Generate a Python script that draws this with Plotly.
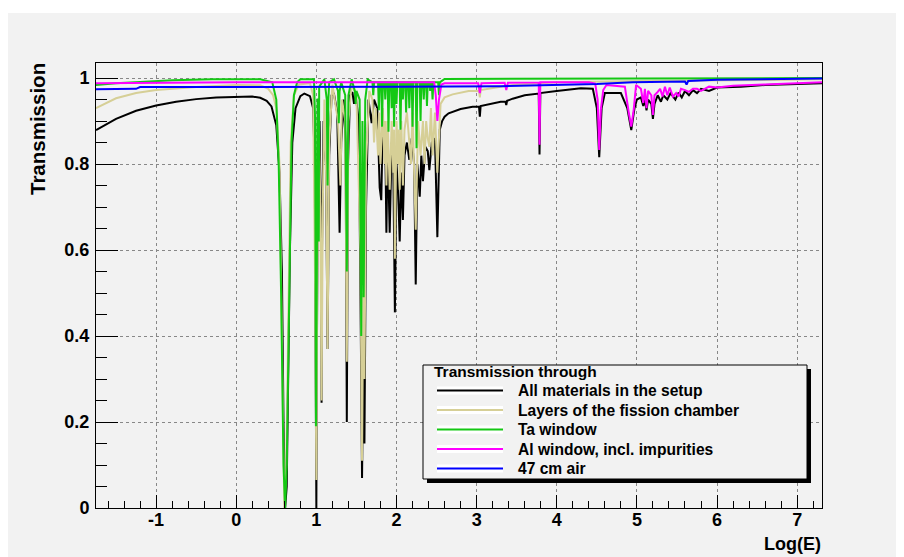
import plotly.graph_objects as go

# ---------------- data ----------------
series_names = ["All materials in the setup", "Layers of the fission chamber",
                "Ta window", "Al window, incl. impurities", "47 cm air"]
legend_header = "Transmission through"
x_ticks = [-1, 0, 1, 2, 3, 4, 5, 6, 7]
x_tick_labels = ["-1", "0", "1", "2", "3", "4", "5", "6", "7"]
y_ticks = [0, 0.2, 0.4, 0.6, 0.8, 1.0]
y_tick_labels = ["0", "0.2", "0.4", "0.6", "0.8", "1"]

black_x = [-1.75, -1.5, -1.25, -1.0, -0.75, -0.5, -0.25, 0.0, 0.2, 0.3,
           0.38, 0.44, 0.5, 0.54, 0.57, 0.59, 0.61, 0.63, 0.65, 0.67,
           0.70, 0.74, 0.8, 0.85, 0.92, 0.96, 0.98, 0.995, 1.0, 1.005,
           1.02, 1.04, 1.06, 1.065, 1.07, 1.09, 1.12, 1.14, 1.16, 1.19,
           1.22, 1.26, 1.29, 1.31, 1.34, 1.365, 1.38, 1.395, 1.42, 1.45,
           1.47, 1.49, 1.53, 1.56, 1.57, 1.585, 1.6, 1.62, 1.65, 1.69,
           1.72, 1.76, 1.79, 1.81, 1.83, 1.86, 1.874, 1.89, 1.915, 1.94,
           1.96, 1.98, 2.0, 2.02, 2.04, 2.06, 2.08, 2.1, 2.13, 2.16,
           2.19, 2.22, 2.24, 2.26, 2.29, 2.31, 2.33, 2.36, 2.39, 2.41,
           2.44, 2.48, 2.51, 2.54, 2.57, 2.6, 2.65, 2.8, 2.95, 3.03,
           3.04, 3.05, 3.3, 3.36, 3.37, 3.38, 3.45, 3.6, 3.775, 3.785,
           3.795, 4.0, 4.3, 4.45, 4.5, 4.53, 4.56, 4.6, 4.8, 4.88,
           4.93, 4.97, 5.0, 5.05, 5.08, 5.1, 5.12, 5.14, 5.18, 5.2,
           5.22, 5.26, 5.3, 5.33, 5.38, 5.42, 5.48, 5.52, 5.56, 5.6,
           5.65, 5.7, 5.75, 5.8, 5.9, 6.0, 6.3, 6.6, 7.0, 7.31]
black_y = [0.879, 0.905, 0.924, 0.936, 0.945, 0.951, 0.955, 0.957, 0.957, 0.954,
           0.947, 0.934, 0.89, 0.78, 0.55, 0.2, 0.0, 0.05, 0.3, 0.6,
           0.85, 0.93, 0.958, 0.964, 0.958, 0.93, 0.8, 0.3, 0.0, 0.3,
           0.85, 0.9, 0.6, 0.245, 0.6, 0.9, 0.8, 0.37, 0.82, 0.96,
           0.963, 0.92, 0.64, 0.85, 0.95, 0.85, 0.2, 0.8, 0.96, 0.967,
           0.94, 0.96, 0.9, 0.3, 0.07, 0.35, 0.15, 0.7, 0.95, 0.895,
           0.95, 0.93, 0.745, 0.716, 0.9, 0.85, 0.64, 0.85, 0.64, 0.85,
           0.8, 0.455, 0.8, 0.74, 0.62, 0.78, 0.67, 0.82, 0.85, 0.81,
           0.86, 0.8, 0.52, 0.8, 0.724, 0.82, 0.76, 0.84, 0.83, 0.786,
           0.85, 0.86, 0.63, 0.88, 0.9, 0.91, 0.918, 0.928, 0.933, 0.933,
           0.91, 0.935, 0.945, 0.945, 0.937, 0.947, 0.952, 0.96, 0.964, 0.822,
           0.965, 0.97, 0.976, 0.975, 0.93, 0.816, 0.93, 0.965, 0.965, 0.93,
           0.879, 0.93, 0.95, 0.955, 0.935, 0.95, 0.925, 0.95, 0.94, 0.905,
           0.94, 0.96, 0.945, 0.96, 0.95, 0.965, 0.95, 0.966, 0.955, 0.97,
           0.96, 0.972, 0.965, 0.975, 0.97, 0.978, 0.98, 0.984, 0.987, 0.988]

tan_x = [-1.75, -1.5, -1.25, -1.0, -0.5, 0.0, 0.3, 0.4, 0.46, 0.5,
         0.54, 0.57, 0.6, 0.625, 0.65, 0.68, 0.72, 0.78, 0.92, 0.96,
         0.985, 1.0, 1.01, 1.03, 1.05, 1.065, 1.08, 1.1, 1.12, 1.14,
         1.16, 1.2, 1.27, 1.3, 1.32, 1.36, 1.38, 1.4, 1.44, 1.5,
         1.55, 1.57, 1.585, 1.6, 1.62, 1.66, 1.7, 1.72, 1.74, 1.77,
         1.785, 1.8, 1.83, 1.85, 1.86, 1.874, 1.89, 1.915, 1.94, 1.96,
         1.97, 1.98, 2.0, 2.02, 2.03, 2.04, 2.06, 2.08, 2.1, 2.13,
         2.16, 2.18, 2.2, 2.24, 2.27, 2.3, 2.33, 2.35, 2.37, 2.39,
         2.41, 2.43, 2.45, 2.48, 2.51, 2.55, 2.6, 2.7, 2.9, 3.03,
         3.04, 3.05, 3.3, 3.5, 4.0, 5.0, 7.31]
tan_y = [0.93, 0.953, 0.965, 0.972, 0.979, 0.984, 0.983, 0.975, 0.96, 0.93,
         0.8, 0.4, 0.0, 0.1, 0.5, 0.85, 0.96, 0.985, 0.988, 0.96,
         0.5, 0.065, 0.5, 0.9, 0.7, 0.25, 0.7, 0.95, 0.8, 0.37,
         0.85, 0.985, 0.9, 0.75, 0.95, 0.9, 0.34, 0.9, 0.985, 0.96,
         0.6, 0.11, 0.5, 0.3, 0.8, 0.97, 0.95, 0.85, 0.93, 0.82,
         0.92, 0.8, 0.93, 0.8, 0.9, 0.75, 0.9, 0.74, 0.9, 0.78,
         0.88, 0.58, 0.9, 0.8, 0.88, 0.74, 0.9, 0.75, 0.88, 0.92,
         0.85, 0.8, 0.92, 0.647, 0.9, 0.82, 0.9, 0.8, 0.9, 0.86,
         0.84, 0.93, 0.82, 0.92, 0.78, 0.94, 0.955, 0.962, 0.97, 0.97,
         0.955, 0.972, 0.98, 0.985, 0.99, 0.993, 0.997]

green_x = [-1.75, -1.5, -1.2, -0.8, -0.3, 0.3, 0.45, 0.5, 0.53, 0.56,
           0.59, 0.61, 0.63, 0.66, 0.69, 0.72, 0.76, 0.8, 0.97, 0.985,
           0.995, 1.005, 1.015, 1.025, 1.03, 1.035, 1.1, 1.13, 1.14, 1.15,
           1.16, 1.22, 1.27, 1.28, 1.29, 1.31, 1.36, 1.38, 1.4, 1.44,
           1.48, 1.49, 1.5, 1.54, 1.56, 1.575, 1.59, 1.61, 1.64, 1.7,
           1.71, 1.72, 1.73, 1.77, 1.78, 1.79, 1.81, 1.82, 1.83, 1.85,
           1.86, 1.87, 1.89, 1.9, 1.91, 1.93, 1.94, 1.95, 1.96, 1.97,
           1.98, 1.99, 2.0, 2.01, 2.04, 2.05, 2.06, 2.07, 2.08, 2.09,
           2.11, 2.12, 2.13, 2.15, 2.16, 2.17, 2.19, 2.2, 2.21, 2.24,
           2.25, 2.26, 2.29, 2.3, 2.31, 2.33, 2.34, 2.35, 2.37, 2.38,
           2.39, 2.41, 2.42, 2.43, 2.44, 2.45, 2.46, 2.52, 2.53, 2.54,
           2.6, 4.0, 7.31]
green_y = [0.984, 0.988, 0.991, 0.995, 0.997, 0.997, 0.99, 0.95, 0.8, 0.5,
           0.1, 0.0, 0.1, 0.5, 0.85, 0.96, 0.99, 0.997, 0.997, 0.9,
           0.19, 0.5, 0.95, 0.95, 0.62, 0.98, 0.997, 0.95, 0.75, 0.95,
           0.99, 0.997, 0.97, 0.895, 0.97, 0.99, 0.96, 0.55, 0.96, 0.997,
           0.97, 0.94, 0.97, 0.95, 0.4, 0.9, 0.49, 0.95, 0.997, 0.99,
           0.96, 0.99, 0.99, 0.99, 0.925, 0.99, 0.99, 0.887, 0.99, 0.99,
           0.95, 0.99, 0.99, 0.875, 0.99, 0.99, 0.93, 0.99, 0.99, 0.887,
           0.99, 0.99, 0.94, 0.99, 0.99, 0.88, 0.99, 0.99, 0.95, 0.99,
           0.99, 0.92, 0.99, 0.99, 0.93, 0.99, 0.99, 0.887, 0.99, 0.99,
           0.837, 0.99, 0.99, 0.9, 0.99, 0.99, 0.95, 0.99, 0.99, 0.935,
           0.99, 0.99, 0.97, 0.99, 0.99, 0.95, 0.99, 0.99, 0.96, 0.99,
           0.998, 0.999, 1.0]

magenta_x = [-1.75, -1.2, 0.0, 2.0, 2.47, 2.49, 2.51, 2.53, 2.56, 2.6,
             3.02, 3.04, 3.06, 3.35, 3.37, 3.39, 3.775, 3.785, 3.795, 4.4,
             4.48, 4.51, 4.53, 4.55, 4.58, 4.62, 4.85, 4.9, 4.93, 4.96,
             4.99, 5.05, 5.08, 5.1, 5.12, 5.14, 5.18, 5.2, 5.22, 5.26,
             5.29, 5.32, 5.35, 5.38, 5.41, 5.45, 5.49, 5.52, 5.55, 5.6,
             5.65, 5.7, 5.75, 5.8, 5.9, 6.0, 6.2, 6.6, 7.0, 7.31]
magenta_y = [0.988, 0.989, 0.99, 0.99, 0.99, 0.96, 0.90, 0.95, 0.985, 0.988,
             0.988, 0.965, 0.988, 0.989, 0.972, 0.989, 0.99, 0.845, 0.99, 0.99,
             0.987, 0.95, 0.833, 0.926, 0.972, 0.984, 0.98, 0.918, 0.887, 0.926,
             0.984, 0.975, 0.942, 0.975, 0.93, 0.97, 0.96, 0.914, 0.96, 0.968,
             0.975, 0.957, 0.98, 0.96, 0.978, 0.957, 0.965, 0.957, 0.975, 0.972,
             0.968, 0.975, 0.975, 0.97, 0.98, 0.978, 0.982, 0.985, 0.988, 0.99]

blue_x = [-1.75, -1.25, -1.2, 0.5, 2.0, 3.3, 4.0, 4.5, 4.95, 5.6,
          5.62, 5.64, 6.0, 6.5, 7.31]
blue_y = [0.974, 0.975, 0.979, 0.979, 0.98, 0.981, 0.983, 0.986, 0.99, 0.992,
          0.985, 0.993, 0.996, 0.997, 0.999]

series_x = [black_x, tan_x, green_x, magenta_x, blue_x]
series_y = [black_y, tan_y, green_y, magenta_y, blue_y]
series_colors = ["#000000", "#d6cf96", "#14c814", "#ff00ff", "#0000ff"]

# ---------------- layout geometry (screen pixels; page body has an 8 px margin) ----------------
OFF = 8
W, H = 904 - OFF, 557 - OFF
P_LEFT, P_RIGHT, P_TOP, P_BOTTOM = 96, 822, 63, 508   # plot frame on screen
ML, MR, MT, MB = P_LEFT - OFF, 904 - P_RIGHT, P_TOP - OFF, 557 - P_BOTTOM
PW, PH = P_RIGHT - P_LEFT, P_BOTTOM - P_TOP


def px_x(p):
    return (p - P_LEFT) / PW


def px_y(p):
    return (P_BOTTOM - p) / PH


FONT = "Liberation Sans, Arial, Helvetica, sans-serif"

fig = go.Figure()
for xs, ys, c, n in zip(series_x, series_y, series_colors, series_names):
    fig.add_trace(go.Scatter(x=xs, y=ys, mode="lines", name=n,
                             line=dict(color=c, width=2), showlegend=False))

shapes = []
# grey canvas
shapes.append(dict(type="rect", xref="paper", yref="paper", layer="below",
                   x0=px_x(7), x1=px_x(910), y0=px_y(562), y1=px_y(13),
                   fillcolor="#f2f2f2", line=dict(width=0)))
# legend shadow and box
lx0, lx1, ly0, ly1 = 423, 807, 365, 479
shapes.append(dict(type="rect", xref="paper", yref="paper", layer="above",
                   x0=px_x(lx0 + 4), x1=px_x(lx1 + 4), y0=px_y(ly1 + 4), y1=px_y(ly0 + 4),
                   fillcolor="#000000", line=dict(width=0)))
shapes.append(dict(type="rect", xref="paper", yref="paper", layer="above",
                   x0=px_x(lx0), x1=px_x(lx1), y0=px_y(ly1), y1=px_y(ly0),
                   fillcolor="#f2f2f2", line=dict(color="#000000", width=1)))

annotations = []
annotations.append(dict(text=legend_header, xref="paper", yref="paper",
                        x=px_x(432), y=px_y(371), xanchor="left", yanchor="middle",
                        showarrow=False,
                        font=dict(family=FONT, size=15.5, color="black", weight="bold")))
entry_y = [390.5, 410, 429.5, 449, 468.5]
for yc, c, n in zip(entry_y, series_colors, series_names):
    shapes.append(dict(type="rect", xref="paper", yref="paper", layer="above",
                       x0=px_x(437), x1=px_x(503), y0=px_y(yc + 4), y1=px_y(yc - 4),
                       fillcolor="#ffffff", line=dict(width=0)))
    shapes.append(dict(type="line", xref="paper", yref="paper", layer="above",
                       x0=px_x(437), x1=px_x(503), y0=px_y(yc), y1=px_y(yc),
                       line=dict(color=c, width=2)))
    annotations.append(dict(text=n, xref="paper", yref="paper",
                            x=px_x(516), y=px_y(yc), xanchor="left", yanchor="middle",
                            showarrow=False,
                            font=dict(family=FONT, size=15.6, color="black", weight="bold")))

# axis titles
annotations.append(dict(text="Transmission", xref="paper", yref="paper",
                        x=px_x(37), y=px_y(61), xanchor="center", yanchor="top",
                        textangle=-90, showarrow=False,
                        font=dict(family=FONT, size=20.5, color="black", weight="bold")))
annotations.append(dict(text="Log(E)", xref="paper", yref="paper",
                        x=px_x(823), y=px_y(532), xanchor="right", yanchor="top",
                        showarrow=False,
                        font=dict(family=FONT, size=18, color="black", weight="bold")))

tickfont = dict(family=FONT, size=18, color="black", weight="bold")
fig.update_layout(
    width=W, height=H,
    margin=dict(l=ML, r=MR, t=MT, b=MB, pad=0),
    paper_bgcolor="#ffffff", plot_bgcolor="rgba(0,0,0,0)",
    shapes=shapes, annotations=annotations, showlegend=False,
    xaxis=dict(range=[-1.75, 7.31], tickvals=x_ticks, ticktext=x_tick_labels,
               ticks="inside", ticklen=13, tickcolor="black", tickwidth=1,
               ticklabelstandoff=-5,
               minor=dict(tick0=0, dtick=0.2, ticks="inside", ticklen=7,
                          tickcolor="black", showgrid=False),
               showgrid=True, gridcolor="#888888", griddash="dot", gridwidth=1,
               zeroline=False, showline=True, linecolor="black", linewidth=1,
               mirror=True, tickfont=tickfont),
    yaxis=dict(range=[0, 1.035], tickvals=y_ticks, ticktext=y_tick_labels,
               ticks="inside", ticklen=22, tickcolor="black", tickwidth=1,
               ticklabelstandoff=2,
               minor=dict(tick0=0, dtick=0.05, ticks="inside", ticklen=11,
                          tickcolor="black", showgrid=False),
               showgrid=True, gridcolor="#888888", griddash="dot", gridwidth=1,
               zeroline=False, showline=True, linecolor="black", linewidth=1,
               mirror=True, tickfont=tickfont),
)

fig.write_html("out.html")
